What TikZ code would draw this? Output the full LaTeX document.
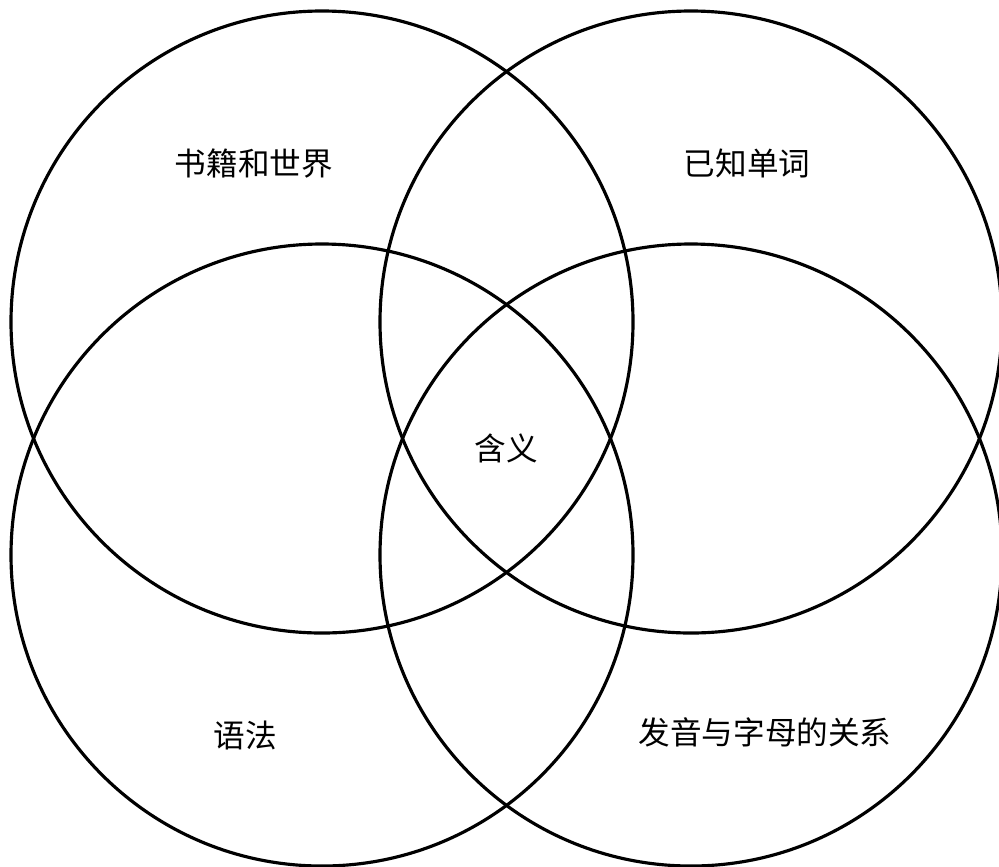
\documentclass[tikz,border=0pt]{standalone}
\usepackage{fontspec}
\newfontfamily\cjk{Noto Sans CJK SC}
\usepackage{tikz}

\tikzset{
  ring/.style={draw=black, line width=1.8pt},
  label/.style={font=\cjk\fontsize{18}{20}\selectfont, inner sep=0pt}
}

\begin{document}
\begin{tikzpicture}[x=0.02cm, y=-0.02cm]

\useasboundingbox (0,0) rectangle (999,866);

\draw[ring] (322,322) circle [radius=311];
\draw[ring] (691,322) circle [radius=311];
\draw[ring] (322,555) circle [radius=311];
\draw[ring] (691,555) circle [radius=311];

\node[label] (books) at (254,163) {书籍和世界};
\node[label] (words) at (747,163) {已知单词};
\node[label] (meaning) at (506,448) {含义};
\node[label] (grammar) at (245,735) {语法};
\node[label] (sounds) at (765,732) {发音与字母的关系};

\end{tikzpicture}
\end{document}
